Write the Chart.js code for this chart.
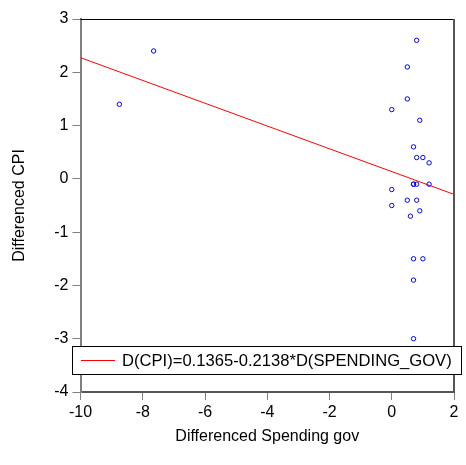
<!DOCTYPE html>
<html>
<head>
<meta charset="utf-8">
<script src="https://cdn.jsdelivr.net/npm/chart.js@4"></script>
<style>
  html, body { margin: 0; padding: 0; background: #fff; }
  #wrap { width: 466px; height: 465px; }
</style>
</head>
<body>
<div id="wrap"><canvas id="scatterChart" width="466" height="465"></canvas></div>
<script>
// differenced spending gov (x) and differenced CPI (y)
const spendX = [-8.75, -7.65, 0.0, 0.0, 0.0, 0.5, 0.5, 0.5, 0.6, 0.7, 0.7, 0.7, 0.7, 0.7, 0.7, 0.8, 0.8, 0.8, 0.8, 0.9, 0.9, 1.0, 1.0, 1.2, 1.2];
const cpiY   = [1.4, 2.4, 1.3, -0.2, -0.5, 2.1, 1.5, -0.4, -0.7, 0.6, -0.1, -1.5, -1.9, -3.0, -0.1, 2.6, 0.4, -0.4, -0.1, 1.1, -0.6, 0.4, -1.5, 0.3, -0.1];
const intercept = 0.1365;
const slope = -0.2138;
const xTicks = [-10, -8, -6, -4, -2, 0, 2];
const yTicks = [-4, -3, -2, -1, 0, 1, 2, 3];
const fitLabel = 'D(CPI)=0.1365-0.2138*D(SPENDING_GOV)';

const points = spendX.map((x, i) => ({ x: x, y: cpiY[i] }));
const fitLine = [xTicks[0], xTicks[xTicks.length - 1]].map(x => ({ x: x, y: intercept + slope * x }));

const font = { family: 'Arial, "Liberation Sans", sans-serif', size: 16 };

// frame on top/right and the boxed legend inside the plot
const framePlugin = {
  id: 'frame',
  afterDraw(chart) {
    const { ctx, chartArea: a } = chart;
    ctx.save();
    ctx.strokeStyle = '#000';
    ctx.lineWidth = 1;
    ctx.beginPath();
    ctx.moveTo(a.left, a.top + 0.5);
    ctx.lineTo(a.right, a.top + 0.5);
    ctx.stroke();
    ctx.strokeStyle = '#555';
    ctx.lineWidth = 2;
    ctx.beginPath();
    ctx.moveTo(a.right, a.top);
    ctx.lineTo(a.right, a.bottom);
    ctx.stroke();

    // legend box
    const bx = 72.5, by = 346.5, bw = 389, bh = 28;
    ctx.fillStyle = '#fff';
    ctx.fillRect(bx, by, bw, bh);
    ctx.strokeStyle = '#000';
    ctx.lineWidth = 1;
    ctx.strokeRect(bx, by, bw, bh);
    ctx.strokeStyle = '#ff0000';
    ctx.beginPath();
    ctx.moveTo(81, by + bh / 2);
    ctx.lineTo(115, by + bh / 2);
    ctx.stroke();
    ctx.fillStyle = '#000';
    ctx.font = '16.6px Arial, "Liberation Sans", sans-serif';
    ctx.textBaseline = 'middle';
    ctx.fillText(fitLabel, 122, by + bh / 2 + 1);
    ctx.restore();
  }
};

new Chart(document.getElementById('scatterChart'), {
  type: 'scatter',
  data: {
    datasets: [
      {
        label: 'data',
        data: points,
        pointStyle: 'circle',
        pointRadius: 2.2,
        pointBorderWidth: 1,
        pointBorderColor: '#0000ff',
        pointBackgroundColor: 'rgba(0,0,0,0)',
        showLine: false
      },
      {
        label: fitLabel,
        data: fitLine,
        type: 'line',
        borderColor: '#ff0000',
        borderWidth: 1,
        pointRadius: 0,
        fill: false
      }
    ]
  },
  options: {
    responsive: false,
    animation: false,
    layout: { padding: { top: 19, right: 12, left: 0, bottom: 0 } },
    plugins: {
      legend: { display: false },
      tooltip: { enabled: false }
    },
    scales: {
      x: {
        type: 'linear',
        min: -10,
        max: 2,
        afterBuildTicks: s => { s.ticks = xTicks.map(v => ({ value: v })); },
        afterFit: s => { s.height = 73; },
        grid: { drawOnChartArea: false, tickLength: 8, color: '#808080' },
        border: { color: '#555', width: 2 },
        ticks: { color: '#000', font: font, padding: 3 },
        title: { display: true, text: 'Differenced Spending gov', color: '#000', font: font, padding: { top: 4, bottom: 19 } }
      },
      y: {
        type: 'linear',
        min: -4,
        max: 3,
        afterBuildTicks: s => { s.ticks = yTicks.map(v => ({ value: v })); },
        afterFit: s => { s.width = 80.5; },
        grid: { drawOnChartArea: false, tickLength: 8, color: '#808080' },
        border: { color: '#808080', width: 2 },
        ticks: { color: '#000', font: font, padding: 4 },
        title: { display: true, text: 'Differenced CPI', color: '#000', font: font, padding: { top: 10, bottom: 4 } }
      }
    }
  },
  plugins: [framePlugin]
});
</script>
</body>
</html>
